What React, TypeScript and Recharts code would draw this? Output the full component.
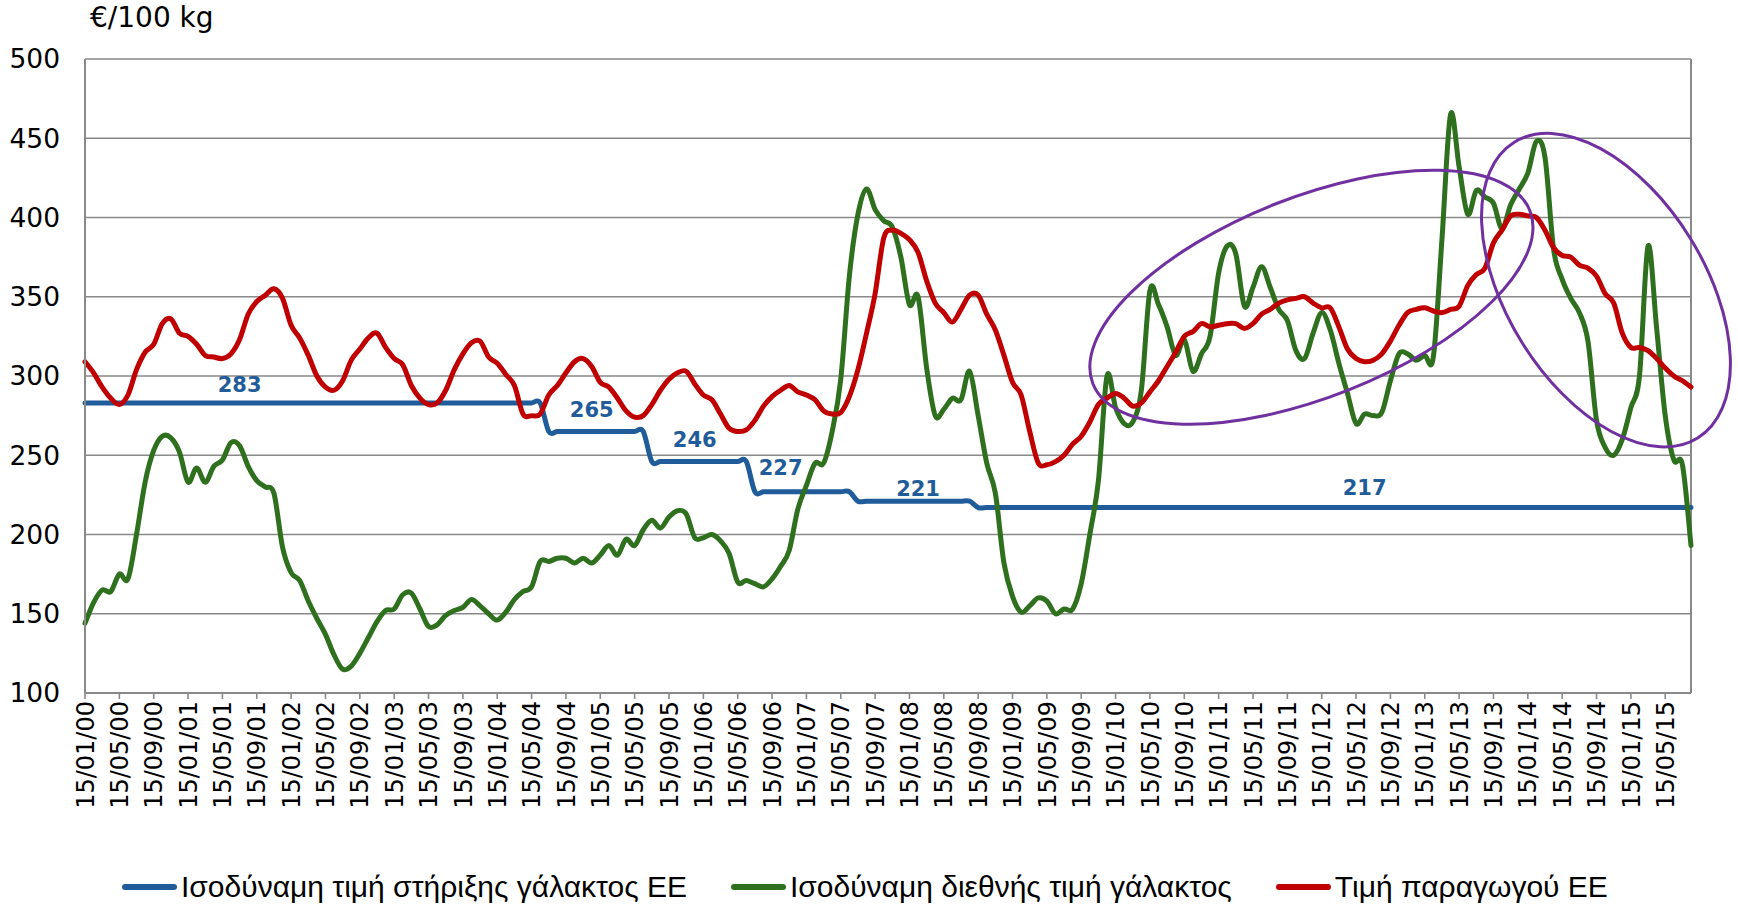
import React from "react";
import {
  LineChart,
  Line,
  XAxis,
  YAxis,
  CartesianGrid,
  ReferenceLine,
  ReferenceDot,
  LabelList,
} from "recharts";

// ---- categories (monthly, 15/01/00 .. 15/08/15) ----
const YEARS = ["00", "01", "02", "03", "04", "05", "06", "07", "08", "09", "10", "11", "12", "13", "14", "15"];
const MONTHS = ["01", "02", "03", "04", "05", "06", "07", "08", "09", "10", "11", "12"];
const CATEGORIES: string[] = [];
YEARS.forEach((y) => MONTHS.forEach((m) => CATEGORIES.push(`15/${m}/${y}`)));
CATEGORIES.length = 188;

// ---- series ----
const SUPPORT_PRICE = [
  283, 283, 283, 283, 283, 283, 283, 283, 283, 283, 283, 283,
  283, 283, 283, 283, 283, 283, 283, 283, 283, 283, 283, 283,
  283, 283, 283, 283, 283, 283, 283, 283, 283, 283, 283, 283,
  283, 283, 283, 283, 283, 283, 283, 283, 283, 283, 283, 283,
  283, 283, 283, 283, 283, 283, 265, 265, 265, 265, 265, 265,
  265, 265, 265, 265, 265, 265, 246, 246, 246, 246, 246, 246,
  246, 246, 246, 246, 246, 246, 227, 227, 227, 227, 227, 227,
  227, 227, 227, 227, 227, 227, 221, 221, 221, 221, 221, 221,
  221, 221, 221, 221, 221, 221, 221, 221, 217, 217, 217, 217,
  217, 217, 217, 217, 217, 217, 217, 217, 217, 217, 217, 217,
  217, 217, 217, 217, 217, 217, 217, 217, 217, 217, 217, 217,
  217, 217, 217, 217, 217, 217, 217, 217, 217, 217, 217, 217,
  217, 217, 217, 217, 217, 217, 217, 217, 217, 217, 217, 217,
  217, 217, 217, 217, 217, 217, 217, 217, 217, 217, 217, 217,
  217, 217, 217, 217, 217, 217, 217, 217, 217, 217, 217, 217,
  217, 217, 217, 217, 217, 217, 217, 217,
];

const WORLD_PRICE = [
  144, 157, 165, 164, 175, 172, 200, 233, 253, 262, 261, 252,
  233, 242, 233, 243, 247, 258, 256, 243, 234, 230, 226, 192,
  176, 171, 158, 147, 137, 124, 115, 117, 125, 135, 145, 152,
  153, 162, 163, 153, 142, 143, 149, 152, 154, 159, 155, 150,
  146, 151, 159, 164, 167, 183, 183, 185, 185, 182, 185, 182,
  187, 193, 187, 197, 193, 203, 209, 204, 211, 215, 213, 198,
  198, 200, 196, 188, 170, 171, 169, 167, 172, 180, 190, 216,
  231, 245, 245, 265, 298, 363, 402, 418, 405, 398, 394, 375,
  345, 350, 305, 275, 279, 286, 285, 303, 275, 245, 226, 182,
  161, 151, 155, 160, 158, 150, 153, 153, 169, 200, 234, 300,
  280, 270, 271, 291, 354, 345, 331, 313, 323, 303, 314, 325,
  365, 382, 377, 344, 356, 369, 356, 342, 335, 316, 311, 327,
  340, 329, 308, 289, 270, 276, 275, 277, 297, 314, 314, 310,
  313, 312, 386, 465, 432, 402, 417, 413, 409, 393, 408, 418,
  428, 448, 438, 380, 361, 349, 340, 322, 272, 255, 250, 260,
  280, 300, 382, 330, 275, 247, 244, 193,
];

const PRODUCER_PRICE = [
  309, 302, 293, 286, 282, 288, 304, 315, 320, 333, 336, 327,
  325, 320, 313, 312, 311, 314, 323, 339, 347, 351, 355, 349,
  332, 324, 313, 300, 293, 291, 297, 310, 317, 324, 327, 318,
  311, 307, 294, 286, 282, 283, 291, 304, 314, 321, 322, 312,
  308, 301, 294, 276, 275, 276, 288, 294, 302, 309, 311, 306,
  296, 293, 286, 278, 274, 275, 282, 291, 298, 302, 303, 295,
  288, 285, 276, 267, 265, 266, 272, 281, 287, 291, 294, 290,
  288, 285, 278, 276, 277, 287, 304, 327, 352, 387, 392, 390,
  386, 378, 360, 346, 340, 334, 342, 351, 351, 339, 329, 313,
  296, 288, 265, 245, 244, 246, 250, 257, 262, 271, 282, 286,
  289, 286, 281, 283, 290, 297, 306, 315, 325, 328, 333, 331,
  332, 333, 333, 330, 333, 339, 342, 346, 348, 349, 350, 346,
  343, 343, 331, 317, 311, 309, 310, 314, 322, 332, 340, 342,
  343, 341, 340, 342, 344, 357, 364, 368, 384, 392, 401, 402,
  401, 400, 392, 381, 376, 375, 370, 368, 363, 352, 346, 327,
  318, 318, 316, 311, 305, 300, 297, 293,
];

// months (index) where the support price is labelled
const SUPPORT_LABEL_AT = [18, 59, 71, 81, 97, 149];
const X_TICKS = [
  0, 4, 8, 12, 16, 20, 24, 28, 32, 36, 40, 44, 48, 52, 56, 60, 64, 68, 72, 76, 80, 84, 88, 92,
  96, 100, 104, 108, 112, 116, 120, 124, 128, 132, 136, 140, 144, 148, 152, 156, 160, 164, 168,
  172, 176, 180, 184,
];
const Y_TICKS = [100, 150, 200, 250, 300, 350, 400, 450, 500];

const SERIES_NAMES = [
  "Ισοδύναμη τιμή στήριξης γάλακτος ΕΕ",
  "Ισοδύναμη διεθνής τιμή γάλακτος",
  "Τιμή παραγωγού ΕΕ",
];

// highlighted periods (data-space centre)
const HIGHLIGHTS = [
  { x: 142.8, y: 349.7, rx: 235, ry: 100, angle: -21.6 },
  { x: 177.1, y: 354.2, rx: 174, ry: 99, angle: 58.2 },
];

const data = CATEGORIES.map((c, i) => ({
  i,
  date: c,
  support: SUPPORT_PRICE[i],
  world: WORLD_PRICE[i],
  producer: PRODUCER_PRICE[i],
  supportLabel: SUPPORT_LABEL_AT.includes(i) ? SUPPORT_PRICE[i] : null,
}));

// ---- styles ----
const BLUE = "#1F5C99";
const GREEN = "#2E701E";
const RED = "#C00000";
const PURPLE = "#7030A0";
const GRID = "#898989";
const FONT = "'DejaVu Sans', Verdana, sans-serif";
const LABEL_LIFT: Record<number, number> = { 18: 18.5, 59: 22, 71: 22.5, 81: 24, 97: 13, 149: 20 };

// Excel-like smoothed line (Catmull-Rom through the points)
class ExcelCurve {
  _context: any;
  _x: number[] = [];
  _y: number[] = [];
  _line: number = 0;
  constructor(context: any) {
    this._context = context;
  }
  areaStart() {
    this._line = 0;
  }
  areaEnd() {
    this._line = NaN;
  }
  lineStart() {
    this._x = [];
    this._y = [];
  }
  point(x: number, y: number) {
    this._x.push(+x);
    this._y.push(+y);
  }
  lineEnd() {
    const xs = this._x;
    const ys = this._y;
    const n = xs.length;
    const ctx = this._context;
    if (!n) return;
    ctx.moveTo(xs[0], ys[0]);
    if (n === 1) {
      ctx.lineTo(xs[0], ys[0]);
      return;
    }
    for (let k = 0; k < n - 1; k++) {
      const a = Math.max(0, k - 1);
      const d = Math.min(n - 1, k + 2);
      const c1x = xs[k] + (xs[k + 1] - xs[a]) / 6;
      const c1y = ys[k] + (ys[k + 1] - ys[a]) / 6;
      const c2x = xs[k + 1] - (xs[d] - xs[k]) / 6;
      const c2y = ys[k + 1] - (ys[d] - ys[k]) / 6;
      ctx.bezierCurveTo(c1x, c1y, c2x, c2y, xs[k + 1], ys[k + 1]);
    }
  }
}
const excelCurve = (context: any) => new ExcelCurve(context);

const XTick = (props: any) => {
  const { x, y, payload } = props;
  return (
    <g transform={`translate(${x},${y})`}>
      <text
        transform="rotate(-90)"
        x={0}
        y={0}
        dy="0.36em"
        textAnchor="end"
        fontSize={24}
        fontFamily={FONT}
        fill="#000"
      >
        {CATEGORIES[payload.value]}
      </text>
    </g>
  );
};

const SupportLabel = (props: any) => {
  const { x, y, value, index } = props;
  if (value == null || x == null || y == null) return null;
  const lift = LABEL_LIFT[index] ?? 20;
  return (
    <text
      x={x}
      y={y - lift}
      dy="0.36em"
      textAnchor="middle"
      fontSize={21}
      fontWeight="bold"
      fontFamily={FONT}
      fill={BLUE}
    >
      {value}
    </text>
  );
};

const Ellipse = (h: { rx: number; ry: number; angle: number }) => (p: any) => (
  <ellipse
    cx={p.cx}
    cy={p.cy}
    rx={h.rx}
    ry={h.ry}
    transform={`rotate(${h.angle} ${p.cx} ${p.cy})`}
    fill="none"
    stroke={PURPLE}
    strokeWidth={3}
  />
);

const LegendItem = ({ color, text }: { color: string; text: string }) => (
  <div style={{ display: "flex", alignItems: "center" }}>
    <span
      style={{
        display: "inline-block",
        width: 55,
        height: 6,
        borderRadius: 3,
        background: color,
        marginRight: 4,
      }}
    />
    <span style={{ whiteSpace: "nowrap" }}>{text}</span>
  </div>
);

export default function App() {
  return (
    <div
      style={{
        position: "absolute",
        left: 0,
        top: 0,
        width: 1738,
        height: 904,
        background: "#fff",
        overflow: "hidden",
      }}
    >
      <div
        style={{
          position: "absolute",
          left: 90,
          top: 4,
          fontFamily: FONT,
          fontSize: 28,
          lineHeight: "28px",
          color: "#000",
          whiteSpace: "nowrap",
        }}
      >
        €/100 kg
      </div>
      <LineChart
        width={1738}
        height={820}
        data={data}
        margin={{ top: 59, right: 47, left: 8, bottom: 0 }}
      >
        <CartesianGrid vertical={false} stroke={GRID} strokeWidth={1.6} />
        <XAxis
          type="number"
          dataKey="i"
          domain={[0, 187]}
          ticks={X_TICKS}
          interval={0}
          height={127}
          tick={<XTick />}
          tickSize={6}
          tickLine={{ stroke: GRID, strokeWidth: 1.6 }}
          axisLine={{ stroke: GRID, strokeWidth: 2 }}
        />
        <YAxis
          type="number"
          domain={[100, 500]}
          ticks={Y_TICKS}
          interval={0}
          width={77}
          tickLine={false}
          tickMargin={19}
          axisLine={{ stroke: GRID, strokeWidth: 2 }}
          tick={{ fontSize: 26.5, fill: "#000", fontFamily: FONT }}
        />
        <ReferenceLine x={187} stroke={GRID} strokeWidth={2} />
        <Line
          dataKey="support"
          name={SERIES_NAMES[0]}
          stroke={BLUE}
          strokeWidth={5}
          type={excelCurve as any}
          dot={false}
          activeDot={false}
          strokeLinecap="round"
          strokeLinejoin="round"
          isAnimationActive={false}
        >
          <LabelList dataKey="supportLabel" content={<SupportLabel />} />
        </Line>
        <Line
          dataKey="world"
          name={SERIES_NAMES[1]}
          stroke={GREEN}
          strokeWidth={5}
          type={excelCurve as any}
          dot={false}
          activeDot={false}
          strokeLinecap="round"
          strokeLinejoin="round"
          isAnimationActive={false}
        />
        <Line
          dataKey="producer"
          name={SERIES_NAMES[2]}
          stroke={RED}
          strokeWidth={5}
          type={excelCurve as any}
          dot={false}
          activeDot={false}
          strokeLinecap="round"
          strokeLinejoin="round"
          isAnimationActive={false}
        />
        {HIGHLIGHTS.map((h, k) => (
          <ReferenceDot key={k} x={h.x} y={h.y} r={1} shape={Ellipse(h)} />
        ))}
      </LineChart>
      <div
        style={{
          position: "absolute",
          left: 122,
          top: 868,
          height: 38,
          display: "flex",
          alignItems: "center",
          gap: 44,
          fontFamily: "'Liberation Sans', Arial, sans-serif",
          fontSize: 30,
          color: "#000",
        }}
      >
        <LegendItem color={BLUE} text={SERIES_NAMES[0]} />
        <LegendItem color={GREEN} text={SERIES_NAMES[1]} />
        <LegendItem color={RED} text={SERIES_NAMES[2]} />
      </div>
    </div>
  );
}
